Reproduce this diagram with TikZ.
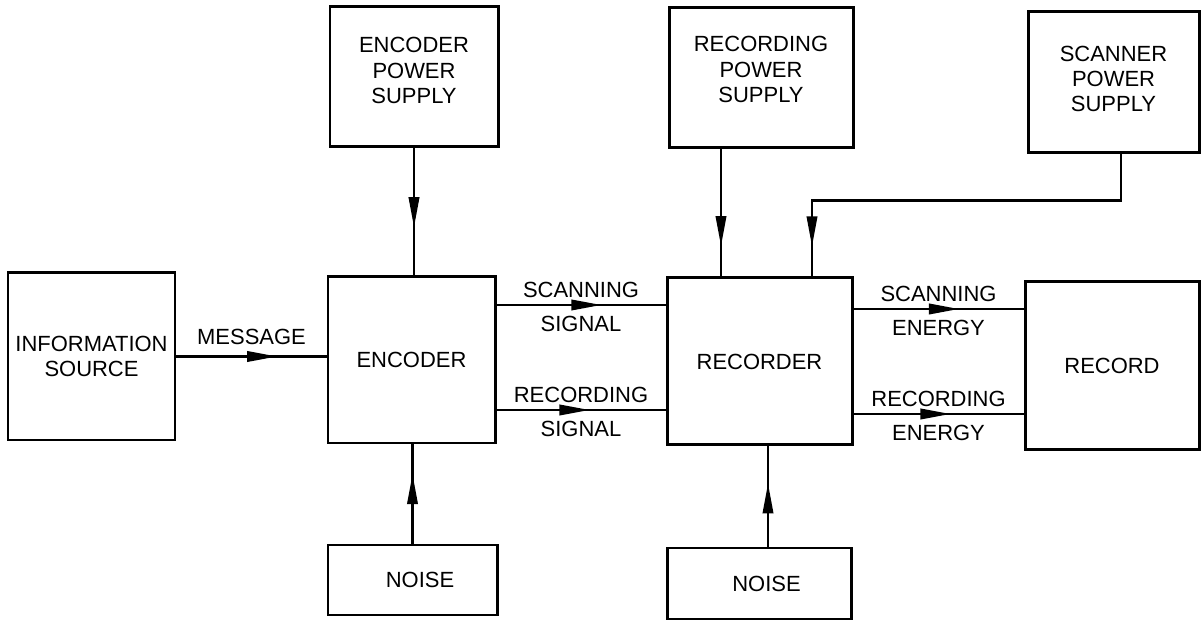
\documentclass[tikz,border=0pt]{standalone}
\usepackage{fontspec}
\setmainfont{Liberation Sans}
\usetikzlibrary{arrows.meta,decorations.markings,calc}

\begin{document}
\begin{tikzpicture}[
  x=1cm,y=1cm,
  font=\fontsize{12.5}{14.4}\selectfont,
  box/.style={draw,line width=1.7pt,align=center,inner sep=0pt,
    minimum width=3.4cm,minimum height=3.34cm},
  powbox/.style={box,minimum height=2.8cm,text depth=0.3cm},
  noisebox/.style={box,minimum height=1.42cm},
  flow/.style={line width=1.2pt,postaction={decorate},
    decoration={markings,mark=at position #1 with {\arrow{Triangle[length=6mm,width=2.1mm]}}}},
  flow/.default=0.65,
  lblup/.style={above,inner sep=3.5pt},
  lbldn/.style={below,inner sep=5.5pt}
]
\useasboundingbox (0,0) rectangle (24.02,12.42);
% blocks
\node[box,minimum width=3.34cm] (src) at (1.83,5.29) {INFORMATION\\SOURCE};
\node[box,minimum width=3.34cm,minimum height=3.32cm] (enc) at (8.23,5.22) {ENCODER};
\node[box,minimum width=3.7cm] (rec) at (15.19,5.19) {RECORDER};
\node[box,minimum width=3.48cm,minimum height=3.36cm] (record) at (22.24,5.10) {RECORD};
\node[powbox,minimum width=3.36cm,text depth=0.26cm] (encpow) at (8.28,10.88) {ENCODER\\POWER\\SUPPLY};
\node[powbox,minimum width=3.68cm,text depth=0.34cm] (recpow) at (15.22,10.86) {RECORDING\\POWER\\SUPPLY};
\node[powbox,minimum width=3.42cm,minimum height=2.82cm,text depth=0.14cm] (spow) at (22.27,10.77) {SCANNER\\POWER\\SUPPLY};
\node[noisebox,minimum width=3.38cm,minimum height=1.4cm] (noise1) at (8.25,0.82) {\hspace*{0.3cm}NOISE};
\node[noisebox,minimum width=3.68cm] (noise2) at (15.18,0.75) {\hspace*{0.3cm}NOISE};
% signal paths
\draw[flow=0.67] (src.east) -- node[lblup,inner sep=6pt] (lmsg) {MESSAGE} (src.east -| enc.west);
\draw[flow=0.62] ([yshift=1.1cm]enc.east) -- node[lblup] (lscan) {SCANNING} node[lbldn] (lscansig) {SIGNAL}
  ([yshift=1.1cm]enc.east -| rec.west);
\draw[flow=0.55] ([yshift=-1cm]enc.east) -- node[lblup] (lrecd) {RECORDING} node[lbldn] (lrecdsig) {SIGNAL}
  ([yshift=-1cm]enc.east -| rec.west);
\draw[flow=0.62] ([yshift=1.05cm]rec.east) -- node[lblup] (lscanen) {SCANNING} node[lbldn] (lscanensig) {ENERGY}
  ([yshift=1.05cm]rec.east -| record.west);
\draw[flow=0.57] ([yshift=-1.05cm]rec.east) -- node[lblup] (lrecden) {RECORDING} node[lbldn] (lrecdensig) {ENERGY}
  ([yshift=-1.05cm]rec.east -| record.west);
% supplies and noise
\draw[flow=0.62] (encpow.south) -- (encpow.south |- enc.north);
\draw[flow=0.76] ([xshift=-0.8cm]recpow.south) -- ([xshift=-0.8cm]recpow.south |- rec.north);
\coordinate (sdrop) at ([xshift=1.05cm]rec.north);
\draw[flow=0.93] ([xshift=0.15cm]spow.south) |- ([yshift=1.52cm]sdrop) -- (sdrop);
\draw[flow=0.7] (noise1.north) -- (noise1.north |- enc.south);
\draw[flow=0.63] ([xshift=0.18cm]noise2.north) -- ([xshift=0.18cm]noise2.north |- rec.south);
\end{tikzpicture}
\end{document}
